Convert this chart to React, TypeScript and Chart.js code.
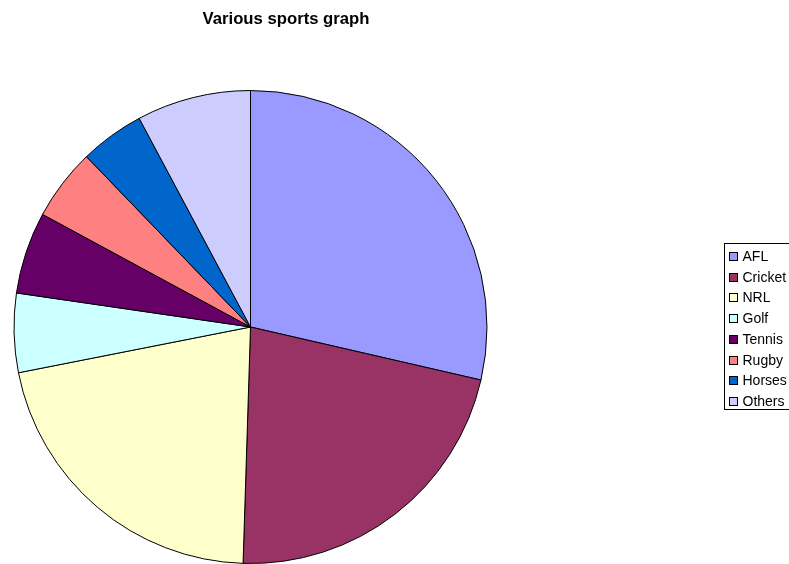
import React, { useEffect, useRef } from "react";
import { Chart, registerables } from "chart.js";

Chart.register(...registerables);

const categories = ["AFL", "Cricket", "NRL", "Golf", "Tennis", "Rugby", "Horses", "Others"];
const shares = [28.6, 21.9, 21.4, 5.4, 5.6, 4.9, 4.4, 7.8];
const sliceColors = ["#9999FF", "#993366", "#FFFFCC", "#CCFFFF", "#660066", "#FF8080", "#0066CC", "#CCCCFF"];
const chartTitle = "Various sports graph";

const overlayPlugin = {
  id: "overlay",
  afterDraw(chart: any) {
    const ctx = chart.ctx as CanvasRenderingContext2D;
    ctx.save();
    // title
    ctx.fillStyle = "#000";
    ctx.font = "bold 16.7px 'Liberation Sans', Arial, sans-serif";
    ctx.textAlign = "center";
    ctx.textBaseline = "alphabetic";
    ctx.fillText(chartTitle, 286, 24);
    // legend box
    ctx.strokeStyle = "#000";
    ctx.lineWidth = 1;
    ctx.fillStyle = "#fff";
    ctx.fillRect(724.5, 243.5, 70, 166);
    ctx.strokeRect(724.5, 243.5, 70, 166);
    const labels = chart.data.labels as string[];
    const colors = chart.data.datasets[0].backgroundColor as string[];
    ctx.font = "14px 'Liberation Sans', Arial, sans-serif";
    ctx.textAlign = "left";
    ctx.textBaseline = "alphabetic";
    labels.forEach((lab, i) => {
      const base = Math.round(261 + i * 20.7);
      ctx.fillStyle = colors[i];
      ctx.fillRect(729.5, base - 8.5, 8, 8);
      ctx.strokeStyle = "#000";
      ctx.strokeRect(729.5, base - 8.5, 8, 8);
      ctx.fillStyle = "#000";
      ctx.fillText(lab, 742.5, base);
    });
    ctx.restore();
  },
};

export default function App() {
  const ref = useRef<HTMLCanvasElement>(null);
  useEffect(() => {
    const chart = new Chart(ref.current as HTMLCanvasElement, {
      type: "pie",
      data: {
        labels: categories,
        datasets: [
          {
            data: shares,
            backgroundColor: sliceColors,
            borderColor: "#000",
            borderWidth: 1,
          },
        ],
      },
      options: {
        animation: false,
        responsive: false,
        devicePixelRatio: 1,
        layout: { padding: { left: 13, right: 301, top: 90, bottom: 0 } },
        plugins: {
          legend: { display: false },
          title: { display: false },
          tooltip: { enabled: false },
        },
      },
      plugins: [overlayPlugin],
    });
    return () => chart.destroy();
  }, []);
  return (
    <div style={{ position: "fixed", left: 0, top: 0, width: 789, height: 564, background: "#fff" }}>
      <canvas ref={ref} width={789} height={564} style={{ width: 789, height: 564 }} />
    </div>
  );
}
